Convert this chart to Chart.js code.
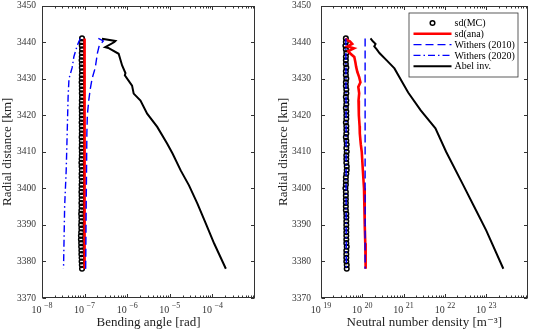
<!DOCTYPE html>
<html>
<head>
<meta charset="utf-8">
<script src="https://cdn.jsdelivr.net/npm/chart.js@4/dist/chart.umd.min.js"></script>
<style>
html, body { margin: 0; padding: 0; background: #fff; }
#left { position: absolute; left: 0; top: 0; width: 270px; height: 330px; }
#right { position: absolute; left: 270px; top: 0; width: 263px; height: 330px; }
</style>
</head>
<body>
<div id="left"><canvas id="c1"></canvas></div>
<div id="right"><canvas id="c2"></canvas></div>
<script>
// radial distance of the Monte-Carlo points [km]
const altMC = [3441,3440,3439,3438,3437,3436,3435,3434,3433,3432,
  3431,3430,3429,3428,3427,3426,3425,3424,3423,3422,
  3421,3420,3419,3418,3417,3416,3415,3414,3413,3412,
  3411,3410,3409,3408,3407,3406,3405,3404,3403,3402,
  3401,3400,3399,3398,3397,3396,3395,3394,3393,3392,
  3391,3390,3389,3388,3387,3386,3385,3384,3383,3382,
  3381,3380,3379,3378];

// ---- left panel: bending angle [rad]
const bendMC = [8.7e-8,8.6e-8,8.6e-8,8.7e-8,8.6e-8,8.6e-8,8.5e-8,8.6e-8,8.6e-8,8.7e-8,
  8.6e-8,8.6e-8,8.5e-8,8.6e-8,8.6e-8,8.6e-8,8.7e-8,8.6e-8,8.6e-8,8.5e-8,
  8.6e-8,8.6e-8,8.6e-8,8.5e-8,8.6e-8,8.6e-8,8.6e-8,8.5e-8,8.6e-8,8.6e-8,
  8.5e-8,8.6e-8,8.6e-8,8.5e-8,8.4e-8,8.5e-8,8.6e-8,8.5e-8,8.5e-8,8.6e-8,
  8.5e-8,8.5e-8,8.4e-8,8.5e-8,8.5e-8,8.4e-8,8.5e-8,8.4e-8,8.3e-8,8.4e-8,
  8.4e-8,8.3e-8,8.4e-8,8.3e-8,8.2e-8,8.2e-8,8.3e-8,8.3e-8,8.4e-8,8.4e-8,
  8.5e-8,8.5e-8,8.6e-8,8.7e-8];

const altAnaB = [3441,3438,3434,3430,3425,3420,3415,3410,3405,3400,3395,3390,3385,3380,3378];
const bendAna = [1.00e-7,0.99e-7,1.00e-7,0.99e-7,1.00e-7,1.00e-7,1.01e-7,1.00e-7,1.00e-7,0.99e-7,1.00e-7,1.00e-7,1.00e-7,1.00e-7,1.01e-7];

const altW10B = [3441,3440.3,3439,3437,3433,3430,3427,3424,3420,3415,3410,3400,3390,3378];
const bendW10 = [2.1e-7,2.75e-7,2.2e-7,2.0e-7,1.78e-7,1.5e-7,1.35e-7,1.25e-7,1.16e-7,1.13e-7,1.12e-7,1.1e-7,1.08e-7,1.06e-7];

const altW20B = [3441,3439,3436,3433,3430,3425,3415,3405,3395,3378];
const bendW20 = [7.9e-8,6.7e-8,5.6e-8,5.1e-8,4.3e-8,4.1e-8,3.9e-8,3.7e-8,3.4e-8,3.2e-8];

const altAbelB = [3440.9,3440.3,3440.0,3438.6,3438.4,3436.8,3433.6,3431.5,3430.9,3428.1,3425.9,3424,3420.4,3416.8,3412.2,3409.5,3404.9,3400.8,3395.8,3390.4,3384.9,3378];
const bendAbel = [2.56e-7,5.3e-7,5.0e-7,3.06e-7,3.6e-7,6.3e-7,7.6e-7,9.1e-7,8.8e-7,1.3e-6,1.42e-6,2.05e-6,2.94e-6,5.07e-6,8.7e-6,1.16e-5,1.8e-5,2.82e-5,4.45e-5,6.98e-5,1.1e-4,2.07e-4];

// ---- right panel: neutral number density [m^-3]
const densMC = [4.0e19,4.0e19,3.9e19,4.0e19,4.1e19,4.0e19,4.0e19,4.0e19,4.1e19,4.0e19,
  4.0e19,4.1e19,4.0e19,4.0e19,4.1e19,4.1e19,4.0e19,4.1e19,4.1e19,4.0e19,
  4.1e19,4.1e19,4.1e19,4.0e19,4.1e19,4.1e19,4.1e19,4.0e19,4.1e19,4.2e19,
  4.1e19,4.2e19,4.1e19,4.1e19,4.1e19,4.2e19,4.2e19,4.1e19,4.0e19,4.0e19,
  4.0e19,3.9e19,4.0e19,4.0e19,4.0e19,4.0e19,4.0e19,4.0e19,4.1e19,4.1e19,
  4.1e19,4.1e19,4.1e19,4.1e19,4.1e19,4.1e19,4.1e19,4.2e19,4.1e19,4.1e19,
  4.1e19,4.1e19,4.2e19,4.2e19];

const altAnaD = [3441,3440.6,3440.2,3439.5,3438.8,3438.3,3437.5,3436.8,3435.9,3434.5,3433.2,3431.8,3430.4,3429,3427.7,3426,3424,3422,3420,3417,3415,3412,3410,3405,3400,3395,3390,3385,3380,3378];
const densAna = [3.9e19,4.2e19,5.0e19,5.7e19,4.4e19,6.3e19,4.6e19,5.2e19,6.4e19,6.8e19,7.1e19,7.6e19,8.4e19,9.0e19,8.0e19,8.4e19,8.1e19,8.3e19,8.2e19,8.6e19,8.7e19,9.2e19,9.7e19,1.03e20,1.10e20,1.13e20,1.16e20,1.18e20,1.20e20,1.21e20];

const altW10D = [3441,3378];
const densW10 = [1.17e20,1.17e20];

const altW20D = [3441,3420,3400,3378];
const densW20 = [4.0e19,4.05e19,4.05e19,4.1e19];

const altAbelD = [3441,3440.2,3439.5,3438.8,3438,3437,3435,3432.8,3429,3426.2,3421.3,3416.4,3410,3400.8,3394.8,3388.5,3378];
const densAbel = [1.58e20,1.8e20,2.09e20,1.95e20,2.24e20,2.6e20,3.9e20,6.0e20,9.3e20,1.29e21,2.6e21,5.9e21,1.07e22,2.8e22,5.2e22,1.0e23,2.6e23];

const bendTicks = [1e-8,1e-7,1e-6,1e-5,1e-4];
const densTicks = [1e19,1e20,1e21,1e22,1e23];
const yTicks = [3370,3380,3390,3400,3410,3420,3430,3440,3450];

const seriesNames = ['sd(MC)', 'sd(ana)', 'Withers (2010)', 'Withers (2020)', 'Abel inv.'];

const serif = "'Liberation Serif', 'DejaVu Serif', serif";
const axisCol = '#333';

const pts = (xs, ys) => xs.map((x, i) => ({x: x, y: ys[i]}));

function makeDatasets(mc, ana, w10, w20, abel) {
  return [
    { label: seriesNames[0], data: mc, showLine: false, pointStyle: 'circle', pointRadius: 2.3,
      pointBorderWidth: 1.5, pointBorderColor: '#000', pointBackgroundColor: 'rgba(0,0,0,0)', order: 5 },
    { label: seriesNames[1], data: ana, showLine: true, borderColor: '#ff0000', borderWidth: 2.6,
      pointRadius: 0, order: 4 },
    { label: seriesNames[2], data: w10, showLine: true, borderColor: '#0000ff', borderWidth: 1.4,
      borderDash: [8, 4], pointRadius: 0, order: 3 },
    { label: seriesNames[3], data: w20, showLine: true, borderColor: '#0000ff', borderWidth: 1.4,
      borderDash: [7, 3, 1.5, 3], pointRadius: 0, order: 2 },
    { label: seriesNames[4], data: abel, showLine: true, borderColor: '#000', borderWidth: 2,
      pointRadius: 0, order: 1 }
  ];
}

// box, inward ticks and 10^n tick labels like the original figure
const frame = {
  id: 'frame',
  afterDatasetsDraw(chart) {
    const ctx = chart.ctx, a = chart.chartArea;
    const xs = chart.scales.x, ys = chart.scales.y;
    const L = Math.round(a.left) + 0.5, R = Math.round(a.right) - 0.5;
    const T = Math.round(a.top) + 0.5, B = Math.round(a.bottom) - 0.5;
    ctx.save();
    ctx.strokeStyle = axisCol;
    ctx.lineWidth = 1;
    ctx.strokeRect(L, T, R - L, B - T);
    ctx.beginPath();
    yTicks.forEach(v => {
      const y = Math.round(ys.getPixelForValue(v)) + 0.5;
      ctx.moveTo(L, y); ctx.lineTo(L + 3.5, y);
      ctx.moveTo(R, y); ctx.lineTo(R - 3.5, y);
    });
    let d = xs.min;
    while (d < xs.max * 0.999) {
      for (let k = 1; k <= 9; k++) {
        const v = k * d;
        if (v > xs.max * 1.0001) break;
        const x = Math.round(xs.getPixelForValue(v)) + 0.5;
        const len = k === 1 ? 3.5 : 2;
        ctx.moveTo(x, B); ctx.lineTo(x, B - len);
        ctx.moveTo(x, T); ctx.lineTo(x, T + len);
      }
      d *= 10;
    }
    ctx.stroke();

    // tick labels: "10" with a raised exponent
    ctx.fillStyle = axisCol;
    ctx.textBaseline = 'alphabetic';
    ctx.textAlign = 'left';
    xs.ticks.forEach(t => {
      const x = xs.getPixelForValue(t.value);
      const base = '10', ex = String(Math.round(Math.log10(t.value))).replace('-', '\u2212');
      ctx.font = '10px ' + serif;
      const wb = ctx.measureText(base).width;
      ctx.font = '8px ' + serif;
      const we = ctx.measureText(ex).width;
      const x0 = x - (wb + 2.5 + we) / 2;
      ctx.font = '10px ' + serif;
      ctx.fillText(base, x0, B + 15);
      ctx.font = '8px ' + serif;
      ctx.fillText(ex, x0 + wb + 2.5, B + 10);
    });
    ctx.restore();
  }
};

const legendBox = {
  id: 'legendBox',
  afterDraw(chart) {
    const ctx = chart.ctx, a = chart.chartArea;
    const w = 109, h = 64, rowH = 10.8;
    const x0 = a.right - 10 - w, y0 = a.top + 7;
    ctx.save();
    ctx.fillStyle = '#fff';
    ctx.fillRect(x0, y0, w, h);
    ctx.strokeStyle = axisCol;
    ctx.lineWidth = 0.8;
    ctx.strokeRect(x0 + 0.5, y0 + 0.5, w, h);
    ctx.font = '10px ' + serif;
    ctx.textBaseline = 'middle';
    ctx.fillStyle = '#000';
    chart.data.datasets.forEach((ds, i) => {
      const y = y0 + 10.5 + i * rowH;
      const sx0 = x0 + 5, sx1 = x0 + 43;
      if (ds.showLine === false) {
        ctx.beginPath();
        ctx.setLineDash([]);
        ctx.lineWidth = 1.5;
        ctx.strokeStyle = ds.pointBorderColor;
        ctx.arc((sx0 + sx1) / 2, y, 2.3, 0, Math.PI * 2);
        ctx.stroke();
      } else {
        ctx.beginPath();
        ctx.setLineDash(ds.borderDash || []);
        ctx.lineWidth = ds.borderWidth;
        ctx.strokeStyle = ds.borderColor;
        ctx.moveTo(sx0, y); ctx.lineTo(sx1, y);
        ctx.stroke();
      }
      ctx.setLineDash([]);
      ctx.fillText(ds.label, x0 + 46, y + 0.5);
    });
    ctx.restore();
  }
};

function noPad(s) {
  s.paddingTop = 0; s.paddingBottom = 0; s.paddingLeft = 0; s.paddingRight = 0;
}

function makeOptions(xMin, xMax, xTicks, xTitle, yWidth, yPad, yTitlePad, rightPad) {
  return {
    responsive: true,
    maintainAspectRatio: false,
    animation: false,
    layout: { padding: { top: 5, right: rightPad, left: 0, bottom: 0 } },
    plugins: { legend: { display: false }, tooltip: { enabled: false } },
    scales: {
      x: {
        type: 'logarithmic',
        min: xMin, max: xMax,
        grid: { display: false, drawTicks: false },
        border: { display: false },
        afterBuildTicks: s => { s.ticks = xTicks.map(v => ({ value: v })); },
        afterFit: s => { s.height = 32; noPad(s); },
        ticks: { display: false },
        title: { display: true, text: xTitle, color: '#222', padding: { top: 0, bottom: 0 },
          font: { family: serif, size: 13 } }
      },
      y: {
        min: 3370, max: 3450,
        grid: { display: false, drawTicks: false },
        border: { display: false },
        afterBuildTicks: s => { s.ticks = yTicks.map(v => ({ value: v })); },
        afterFit: s => { s.width = yWidth; noPad(s); },
        ticks: { padding: yPad, color: axisCol, font: { family: serif, size: 9.5 },
          callback: v => String(v) },
        title: { display: true, text: 'Radial distance [km]', color: '#222',
          padding: { top: yTitlePad, bottom: 0 }, font: { family: serif, size: 13 } }
      }
    }
  };
}

new Chart(document.getElementById('c1'), {
  type: 'scatter',
  data: { datasets: makeDatasets(pts(bendMC, altMC), pts(bendAna, altAnaB), pts(bendW10, altW10B),
    pts(bendW20, altW20B), pts(bendAbel, altAbelB)) },
  options: makeOptions(1e-8, 1e-3, bendTicks, 'Bending angle [rad]', 42, 6, 0, 15),
  plugins: [frame]
});

new Chart(document.getElementById('c2'), {
  type: 'scatter',
  data: { datasets: makeDatasets(pts(densMC, altMC), pts(densAna, altAnaD), pts(densW10, altW10D),
    pts(densW20, altW20D), pts(densAbel, altAbelD)) },
  options: makeOptions(1e19, 1e24, densTicks, 'Neutral number density [m\u207B\u00B3]', 51, 10, 6, 1),
  plugins: [frame, legendBox]
});
</script>
</body>
</html>
